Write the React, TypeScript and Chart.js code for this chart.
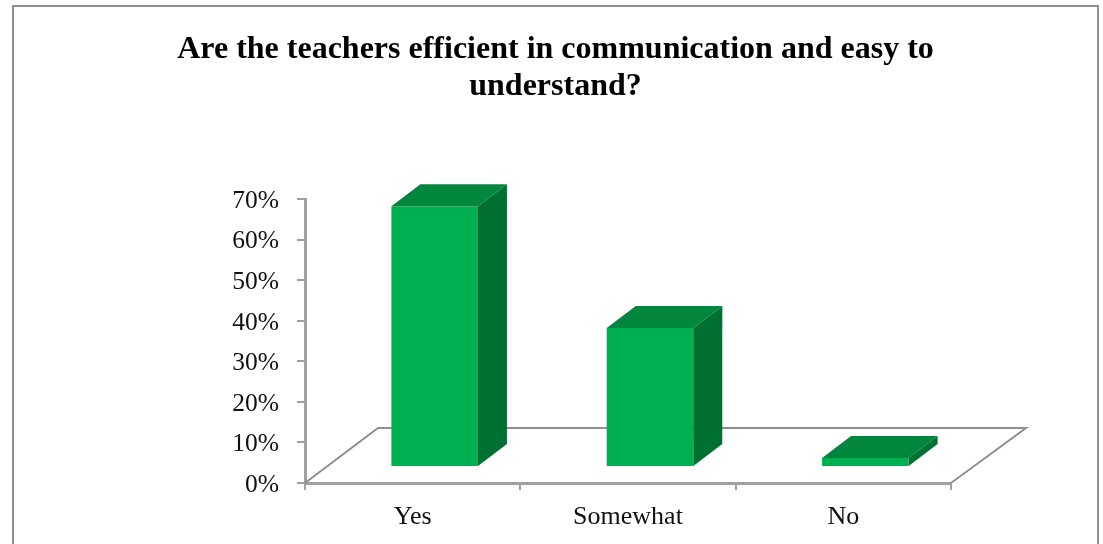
import React, { useEffect, useRef } from "react";
import { Chart, registerables } from "chart.js";

Chart.register(...registerables);

const categories = ["Yes", "Somewhat", "No"];
const values = [64.3, 34.3, 2.2];
const titleLines = ["Are the teachers efficient in communication and easy to", "understand?"];

const SERIF = '"Liberation Serif", serif';
const GREY = "#8f8f8f";
const AXIS_GREY = "#a0a0a0";
const FRONT = "#00b050";
const SIDE = "#006f32";
const TOP = "#00863d";

const threeD = {
  id: "threeD",
  beforeDraw(chart: any) {
    const { ctx } = chart;
    ctx.save();
    ctx.strokeStyle = GREY;
    ctx.lineWidth = 2;
    ctx.beginPath();
    ctx.moveTo(13, 544);
    ctx.lineTo(13, 6);
    ctx.lineTo(1098, 6);
    ctx.lineTo(1098, 544);
    ctx.stroke();
    ctx.restore();
  },
  beforeDatasetsDraw(chart: any) {
    const { ctx, scales } = chart;
    const x0 = scales.x.left;
    const x1 = scales.x.right;
    const y0 = scales.y.bottom;
    ctx.save();
    ctx.strokeStyle = GREY;
    ctx.lineWidth = 2;
    ctx.beginPath();
    ctx.moveTo(x0, y0);
    ctx.lineTo(x0 + 73, y0 - 55);
    ctx.lineTo(x1 + 75, y0 - 55);
    ctx.lineTo(x1, y0);
    ctx.stroke();
    ctx.restore();
    ctx.save();
    ctx.translate(22, -16);
  },
  afterDatasetsDraw(chart: any) {
    const { ctx } = chart;
    const dx = 29;
    const dy = 22;
    chart.getDatasetMeta(0).data.forEach((bar: any) => {
      const l = bar.x - bar.width / 2;
      const r = bar.x + bar.width / 2;
      ctx.fillStyle = SIDE;
      ctx.beginPath();
      ctx.moveTo(r, bar.y);
      ctx.lineTo(r + dx, bar.y - dy);
      ctx.lineTo(r + dx, bar.base - dy);
      ctx.lineTo(r, bar.base);
      ctx.closePath();
      ctx.fill();
      ctx.fillStyle = TOP;
      ctx.beginPath();
      ctx.moveTo(l, bar.y);
      ctx.lineTo(l + dx, bar.y - dy);
      ctx.lineTo(r + dx, bar.y - dy);
      ctx.lineTo(r, bar.y);
      ctx.closePath();
      ctx.fill();
    });
    ctx.restore();
  },
};

export default function App() {
  const ref = useRef<HTMLCanvasElement>(null);
  useEffect(() => {
    document.body.style.margin = "0";
    document.body.style.background = "#fff";
    const chart = new Chart(ref.current as HTMLCanvasElement, {
      type: "bar",
      data: {
        labels: categories,
        datasets: [{ data: values, backgroundColor: FRONT, barPercentage: 0.402, categoryPercentage: 1 }],
      },
      plugins: [threeD],
      options: {
        animation: false,
        responsive: false,
        layout: { padding: { left: 8, right: 0, top: 0, bottom: 0 } },
        plugins: {
          legend: { display: false },
          tooltip: { enabled: false },
          title: {
            display: true,
            text: titleLines,
            color: "#000",
            font: { family: SERIF, size: 32, weight: "bold", lineHeight: 1.16 },
            padding: { top: 31, bottom: 94 },
          },
        },
        scales: {
          x: {
            grid: { drawOnChartArea: false, color: AXIS_GREY, lineWidth: 2, tickLength: 7 },
            border: { color: AXIS_GREY, width: 3 },
            ticks: { color: "#111", font: { family: SERIF, size: 26 }, padding: 12, maxRotation: 0 },
            afterFit(s: any) { s.height = 61; },
          },
          y: {
            min: 0,
            max: 70,
            grid: { drawOnChartArea: false, color: AXIS_GREY, lineWidth: 2, tickLength: 8 },
            border: { color: AXIS_GREY, width: 3 },
            ticks: {
              stepSize: 10,
              color: "#111",
              font: { family: SERIF, size: 25.5 },
              padding: 18,
              labelOffset: 2,
              callback: (v: any) => `${v}%`,
            },
            afterFit(s: any) { s.width = 297; },
          },
          r: {
            position: "right",
            display: true,
            grid: { display: false, drawTicks: false },
            border: { display: false },
            ticks: { display: false },
            afterFit(s: any) { s.width = 152; },
          },
        },
      } as any,
    });
    return () => chart.destroy();
  }, []);
  return <canvas ref={ref} width={1103} height={544} style={{ display: "block" }} />;
}
